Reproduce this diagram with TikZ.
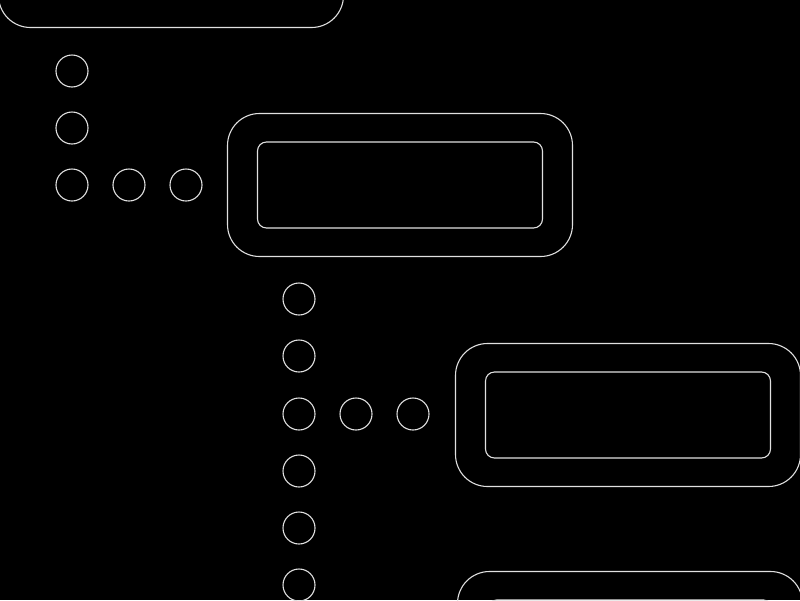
\documentclass[tikz,border=0pt]{standalone}
\begin{document}
\begin{tikzpicture}[x=1pt,y=-1pt,
  edge/.style={draw=white!88!black, line width=1.1pt},
  outerbox/.style={edge, rectangle, rounded corners=32pt, minimum width=345pt, minimum height=143pt, inner sep=0pt},
  innerbox/.style={edge, rectangle, rounded corners=9pt, minimum width=285pt, minimum height=86pt, inner sep=0pt},
  dot/.style={edge, circle, minimum size=32pt, inner sep=0pt}]
\fill[black] (0,0) rectangle (800,600);
\useasboundingbox (0,0) rectangle (800,600);
\clip (0,0) rectangle (800,600);
% boxes
\node[outerbox] (b1) at (171,-44) {};
\node[outerbox] (b2) at (400,185) {};
\node[innerbox] (i2) at (400,185) {};
\node[outerbox] (b3) at (628,415) {};
\node[innerbox] (i3) at (628,415) {};
\node[outerbox] (b4) at (630,643) {};
\node[innerbox] (i4) at (630,643) {};
% dotted branch 1
\node[dot] (c11) at (72,71) {};
\node[dot] (c12) at (72,128) {};
\node[dot] (c13) at (72,185) {};
\node[dot] (c14) at (129,185) {};
\node[dot] (c15) at (186,185) {};
% dotted branch 2
\node[dot] (c21) at (299,299) {};
\node[dot] (c22) at (299,356) {};
\node[dot] (c23) at (299,414) {};
\node[dot] (c24) at (356,414) {};
\node[dot] (c25) at (413,414) {};
\node[dot] (c26) at (299,471) {};
\node[dot] (c27) at (299,528) {};
\node[dot] (c28) at (299,585) {};
\end{tikzpicture}
\end{document}
